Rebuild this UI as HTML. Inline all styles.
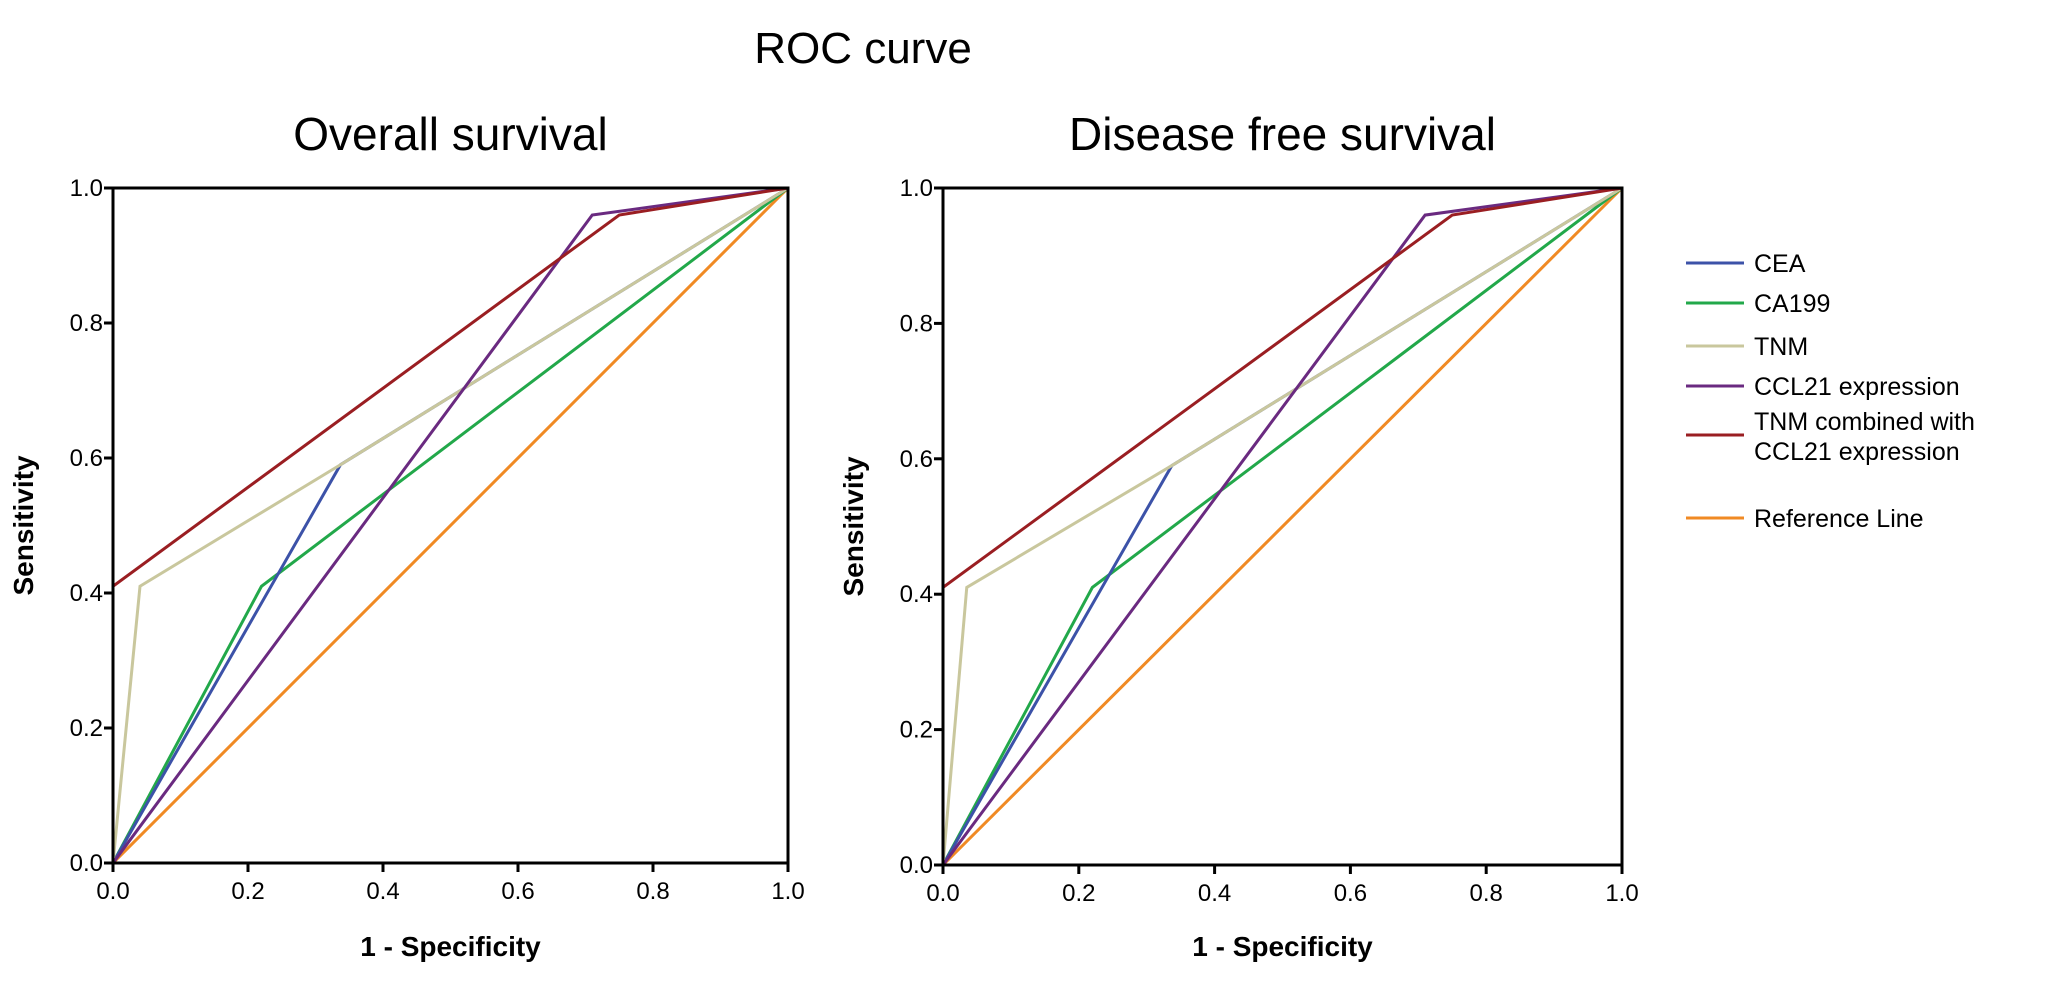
<!DOCTYPE html>
<html><head><meta charset="utf-8"><style>
body{margin:0;background:#fff;}
svg text{font-family:"Liberation Sans",sans-serif;}
</style></head><body>
<svg id="chart" width="2055" height="991" xmlns="http://www.w3.org/2000/svg">
<text x="863" y="63" font-size="44" text-anchor="middle">ROC curve</text>
<g id="legend"></g>
</svg>
<script>
const ticks = [0, 0.2, 0.4, 0.6, 0.8, 1.0];
const tickLabels = ["0.0","0.2","0.4","0.6","0.8","1.0"];
const seriesNames = ["CEA","CA199","TNM","CCL21 expression","TNM combined with CCL21 expression","Reference Line"];
const seriesColors = ["#3c52a8","#22a84a","#c9c79d","#6a2a80","#9a1e22","#f08a24"];
const osCEA_x = [0,0.337,1], osCEA_y = [0,0.59,1];
const osCA199_x = [0,0.22,1], osCA199_y = [0,0.41,1];
const osTNM_x = [0,0.04,0.337,1], osTNM_y = [0,0.41,0.59,1];
const osCCL21_x = [0,0.71,1], osCCL21_y = [0,0.96,1];
const osComb_x = [0,0,0.75,1], osComb_y = [0,0.41,0.96,1];
const dfsCEA_x = [0,0.337,1], dfsCEA_y = [0,0.59,1];
const dfsCA199_x = [0,0.22,1], dfsCA199_y = [0,0.41,1];
const dfsTNM_x = [0,0.035,0.337,1], dfsTNM_y = [0,0.41,0.59,1];
const dfsCCL21_x = [0,0.71,1], dfsCCL21_y = [0,0.96,1];
const dfsComb_x = [0,0,0.75,1], dfsComb_y = [0,0.41,0.96,1];
const ref_x = [0,1], ref_y = [0,1];

const NS="http://www.w3.org/2000/svg";
const svg=document.getElementById('chart');
function mk(tag,attrs,parent){const e=document.createElementNS(NS,tag);for(const k in attrs)e.setAttribute(k,attrs[k]);(parent||svg).appendChild(e);return e;}

function panel(key,x0,x1,y0,y1,title,series){
  const g=mk('g',{});
  
  
  const sx=v=>x0+v*(x1-x0), sy=v=>y0-v*(y0-y1);
  const t=mk('text',{x:(x0+x1)/2,y:150,'font-size':46,'text-anchor':'middle'},g);t.textContent=title;
  
  
  series.forEach((s,i)=>{
    const pts=s[0].map((v,j)=>sx(v)+','+sy(s[1][j])).join(' ');
    const l=mk('polyline',{points:pts,fill:'none',stroke:seriesColors[s[2]],'stroke-width':3,'stroke-linejoin':'miter'},g);
    
    
  });
  const fr=mk('rect',{x:x0,y:y1,width:x1-x0,height:y0-y1,fill:'none',stroke:'#000','stroke-width':3},g);
  
  
  ticks.forEach((v,i)=>{
    mk('line',{x1:sx(v),x2:sx(v),y1:y0,y2:y0+9,stroke:'#000','stroke-width':3},g);
    const tx=mk('text',{x:sx(v),y:y0+36,'font-size':24,'text-anchor':'middle'},g);tx.textContent=tickLabels[i];
    
    
    mk('line',{x1:x0-9,x2:x0,y1:sy(v),y2:sy(v),stroke:'#000','stroke-width':3},g);
    const ty=mk('text',{x:x0-10,y:sy(v)+8,'font-size':24,'text-anchor':'end'},g);ty.textContent=tickLabels[i];
    
    
  });
  const xt=mk('text',{x:(x0+x1)/2,y:956,'font-size':28,'font-weight':'bold','text-anchor':'middle'},g);xt.textContent='1 - Specificity';
  
  
  const yx=x0-80, yc=(y0+y1)/2;
  const yt=mk('text',{x:yx,y:yc,'font-size':28,'font-weight':'bold','text-anchor':'middle',transform:`rotate(-90 ${yx} ${yc})`},g);yt.textContent='Sensitivity';
  
  
}
panel('overall-survival',113,788,863,188,'Overall survival',[
  [ref_x,ref_y,5],[osCA199_x,osCA199_y,1],[osCEA_x,osCEA_y,0],[osTNM_x,osTNM_y,2],[osCCL21_x,osCCL21_y,3],[osComb_x,osComb_y,4]]);
panel('disease-free-survival',943,1622,865,188,'Disease free survival',[
  [ref_x,ref_y,5],[dfsCA199_x,dfsCA199_y,1],[dfsCEA_x,dfsCEA_y,0],[dfsTNM_x,dfsTNM_y,2],[dfsCCL21_x,dfsCCL21_y,3],[dfsComb_x,dfsComb_y,4]]);

const lg=document.getElementById('legend');
const rowY=[263,303,346,386,435,518];
seriesNames.forEach((n,i)=>{
  const y=rowY[i];
  const ln=mk('line',{x1:1686,x2:1744,y1:y,y2:y,stroke:seriesColors[i],'stroke-width':3},lg);
  
  
  const t=mk('text',{x:1754,y:y+9,'font-size':25},lg);
  
  
  if(i===4){
    const a=mk('tspan',{x:1754,y:y-5},t);a.textContent='TNM combined with';
    const b=mk('tspan',{x:1754,y:y+25},t);b.textContent='CCL21 expression';
  } else t.textContent=n;
});
</script>
</body></html>
